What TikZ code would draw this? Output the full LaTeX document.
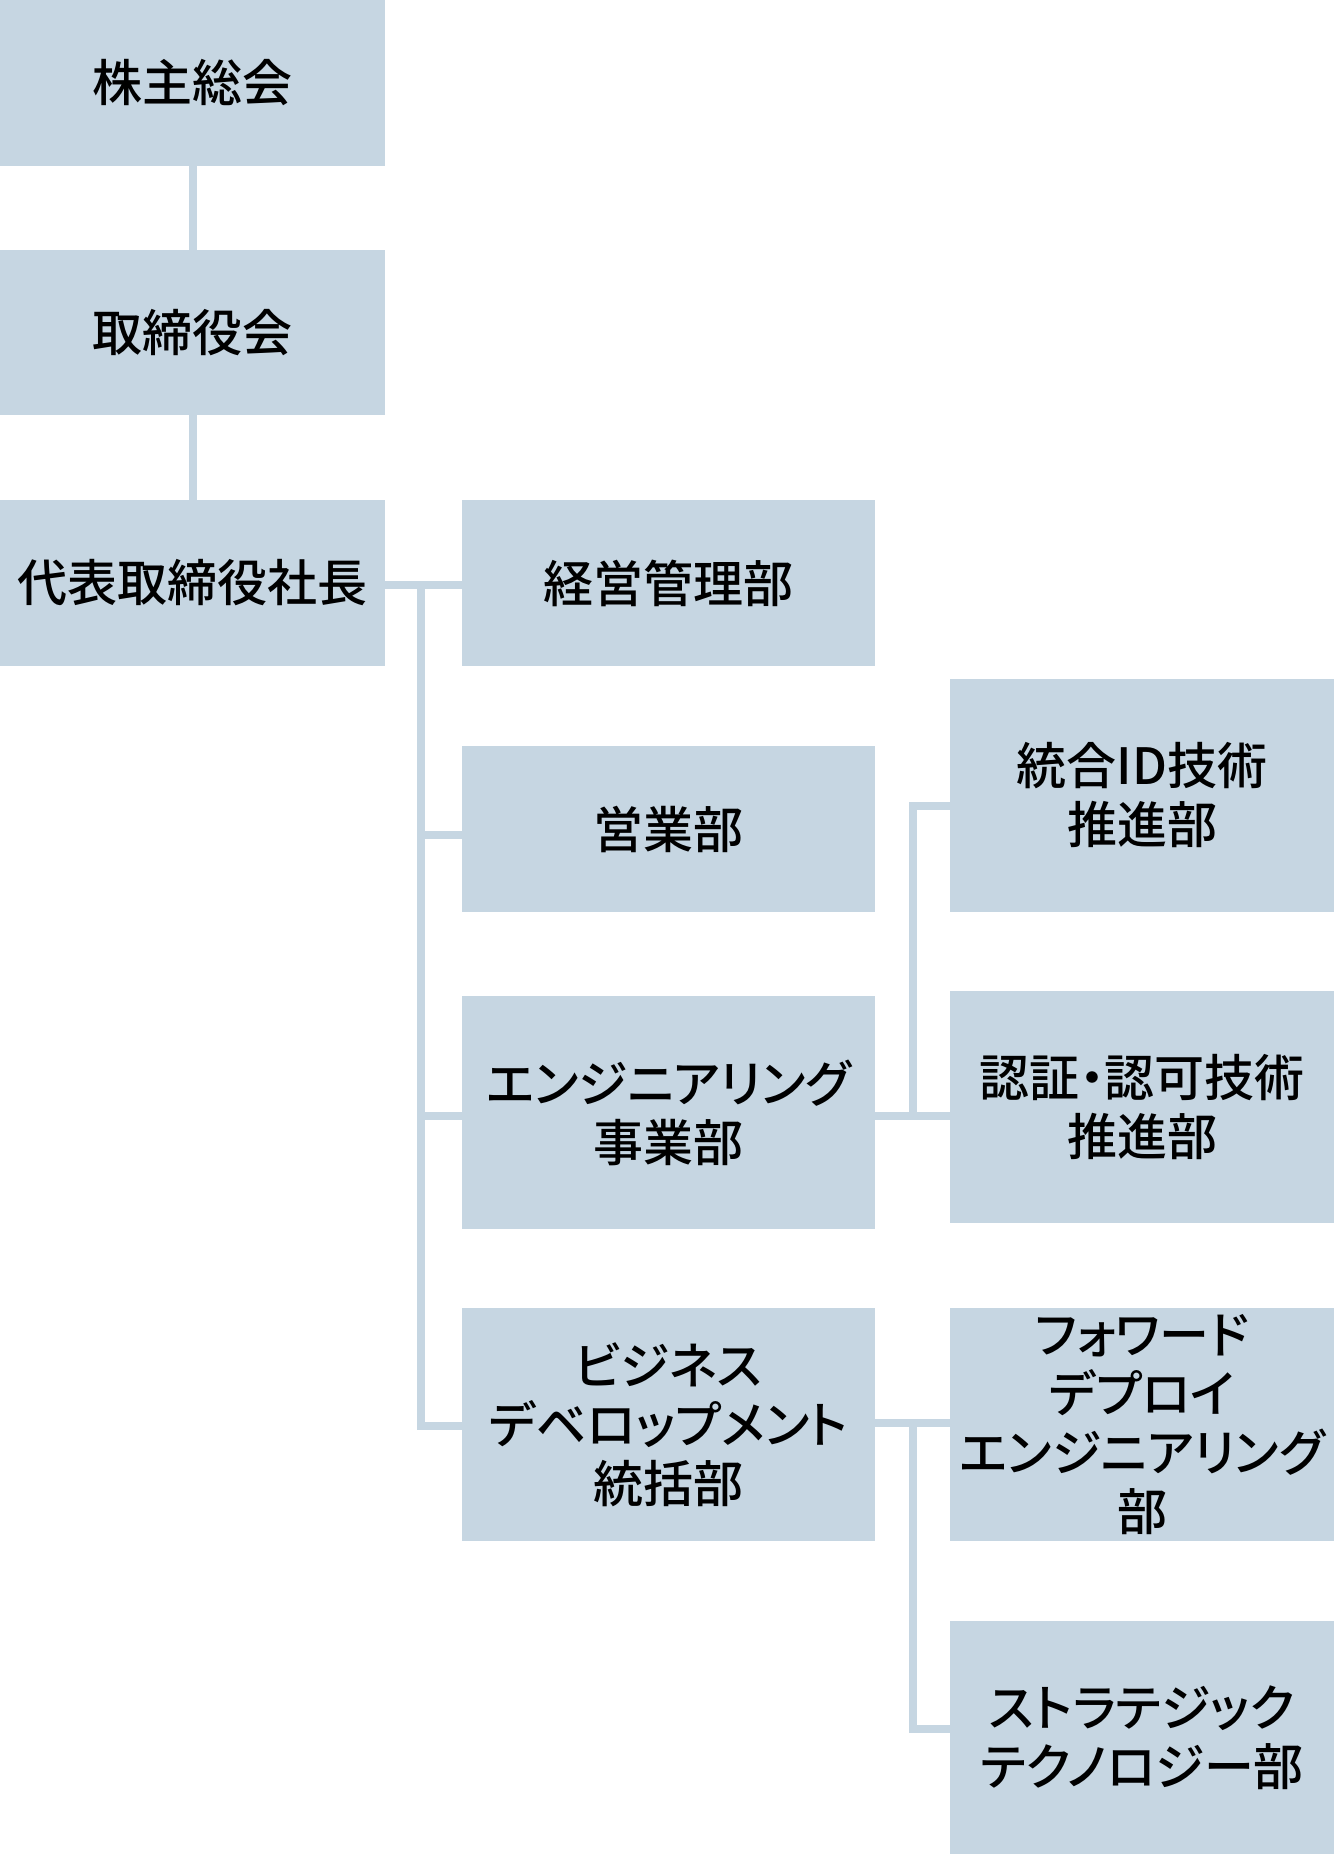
\documentclass[tikz,border=0pt]{standalone}
\usepackage{fontspec}
\setmainfont{Noto Sans CJK JP Medium}[RawFeature={+palt}]
\definecolor{boxfill}{HTML}{C6D6E2}
\begin{document}
\begin{tikzpicture}[x=0.5pt,y=-0.5pt,
  orgbox/.style={fill=boxfill, draw=none, inner sep=0pt, align=center,
    font=\fontsize{25pt}{29.5pt}\selectfont, text=black},
  conn/.style={draw=boxfill, line width=4pt}]
\useasboundingbox (0,0) rectangle (1334,1855);
% left column
\node[orgbox, minimum width=192.5pt, minimum height=83pt] (A) at (192.5,83) {株主総会};
\node[orgbox, minimum width=192.5pt, minimum height=82.5pt] (B) at (192.5,332.5) {取締役会};
\node[orgbox, minimum width=192.5pt, minimum height=83pt] (C) at (192.5,583) {代表取締役社長};
% middle column
\node[orgbox, minimum width=206.5pt, minimum height=83pt] (D) at (668.5,583) {経営管理部};
\node[orgbox, minimum width=206.5pt, minimum height=83pt] (E) at (668.5,829) {営業部};
\node[orgbox, minimum width=206.5pt, minimum height=116.5pt] (F) at (668.5,1112.5) {エンジニアリング\\事業部};
\node[orgbox, minimum width=206.5pt, minimum height=116.5pt] (G) at (668.5,1424.5) {ビジネス\\デベロップメント\\統括部};
% right column
\node[orgbox, minimum width=192pt, minimum height=116.5pt] (H) at (1142,795.5) {統合ID技術\\推進部};
\node[orgbox, minimum width=192pt, minimum height=116pt] (I) at (1142,1107) {認証・認可技術\\推進部};
\node[orgbox, minimum width=192pt, minimum height=116.5pt] (J) at (1142,1424.5) {フォワード\\デプロイ\\エンジニアリング\\部};
\node[orgbox, minimum width=192pt, minimum height=116.5pt] (K) at (1142,1737.5) {ストラテジック\\テクノロジー部};
% junction coordinates
\coordinate (t1) at (421,585);
\coordinate (e1) at (913,1116);
\coordinate (g1) at (913,1423);
% connectors
\draw[conn] (A.south) -- (B.north);
\draw[conn] (B.south) -- (C.north);
\draw[conn] (C.east |- t1) -- (D.west |- t1);
\draw[conn] (t1) |- ([yshift=-3pt]E.west);
\draw[conn] (t1) |- ([yshift=-1.5pt]F.west);
\draw[conn] (t1) |- ([yshift=-0.75pt]G.west);
\draw[conn] (F.east |- e1) -- (I.west |- e1);
\draw[conn] (e1) |- ([yshift=-5pt]H.west);
\draw[conn] (G.east |- g1) -- (J.west |- g1);
\draw[conn] (g1) |- ([yshift=4.5pt]K.west);
\end{tikzpicture}
\end{document}
